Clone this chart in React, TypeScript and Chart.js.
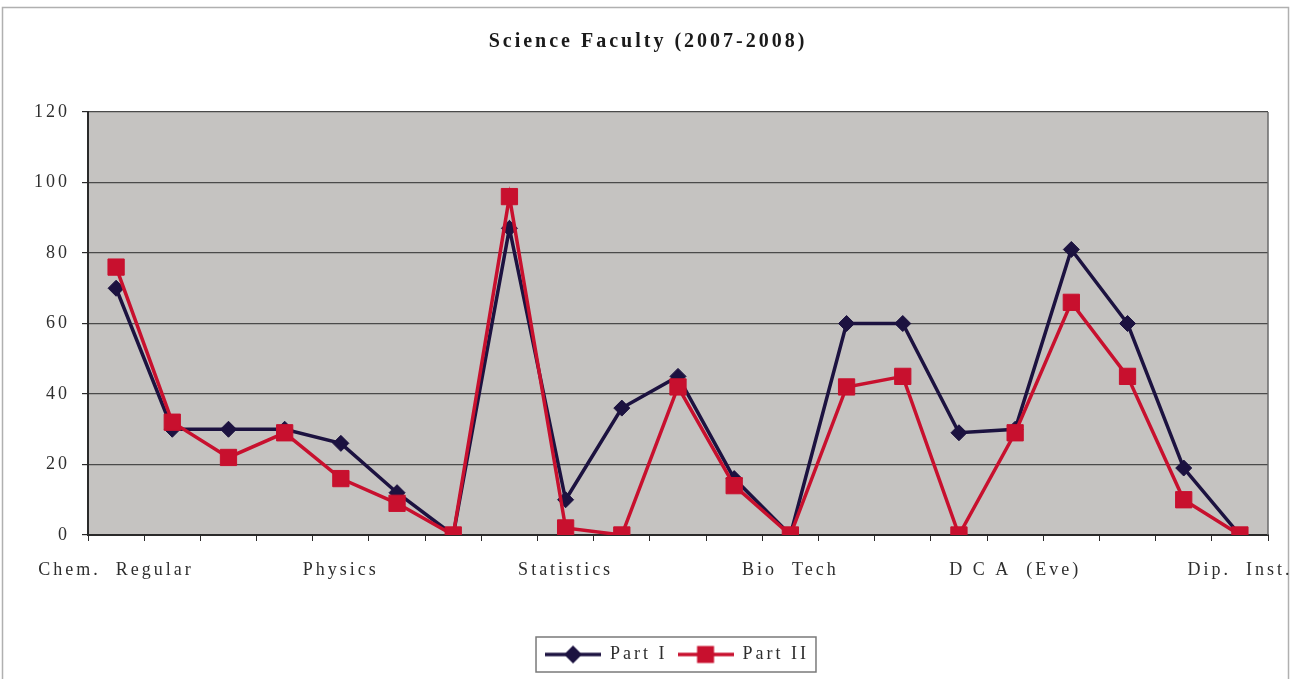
import React, { useEffect, useRef } from "react";
import { Chart, registerables } from "chart.js";

Chart.register(...registerables);

const categories = [
  "Chem.  Regular", "", "", "", "Physics", "", "", "", "Statistics", "", "", "",
  "Bio  Tech", "", "", "", "D C A  (Eve)", "", "", "", "Dip.  Inst.",
];
const partI = [70, 30, 30, 30, 26, 12, 0, 87, 10, 36, 45, 16, 0, 60, 60, 29, 30, 81, 60, 19, 0];
const partII = [76, 32, 22, 29, 16, 9, 0, 96, 2, 0, 42, 14, 0, 42, 45, 0, 29, 66, 45, 10, 0];
const yTicks = [0, 20, 40, 60, 80, 100, 120];
const seriesNames = ["Part I", "Part II"];
const chartTitle = "Science Faculty (2007-2008)";

const NAVY = "#1c1240";
const RED = "#c8102e";
const FONT = "'Liberation Serif', 'Times New Roman', serif";

function legendImage(color: string, shape: "diamond" | "square") {
  const c = document.createElement("canvas");
  c.width = 56;
  c.height = 20;
  const g = c.getContext("2d")!;
  g.strokeStyle = color;
  g.lineWidth = 3.5;
  g.beginPath();
  g.moveTo(0, 10);
  g.lineTo(56, 10);
  g.stroke();
  g.fillStyle = color;
  g.beginPath();
  if (shape === "diamond") {
    g.moveTo(28, 1);
    g.lineTo(37, 10);
    g.lineTo(28, 19);
    g.lineTo(19, 10);
    g.closePath();
  } else {
    g.rect(19.5, 1.5, 17, 17);
  }
  g.fill();
  return c;
}

const spacingPlugin = {
  id: "letterSpacing",
  beforeUpdate(chart: any) {
    (chart.ctx as any).letterSpacing = "3px";
  },
  afterLayout(chart: any) {
    const lg = chart.legend;
    if (lg) {
      lg.left += 43;
      lg.right += 43;
    }
    const tb = chart.titleBlock;
    if (tb) {
      tb.left += 14;
      tb.right += 14;
    }
  },
  beforeDraw(chart: any) {
    const ctx = chart.ctx;
    (ctx as any).letterSpacing = "3px";
    const { chartArea } = chart;
    ctx.save();
    ctx.fillStyle = "#ffffff";
    ctx.fillRect(0, 0, chart.width, chart.height);
    // outer frame
    ctx.strokeStyle = "#b0b0b0";
    ctx.lineWidth = 1.5;
    ctx.strokeRect(2.5, 7.5, 1286, 700);
    // plot area
    ctx.fillStyle = "#c5c3c1";
    ctx.fillRect(chartArea.left, chartArea.top, chartArea.right - chartArea.left, chartArea.bottom - chartArea.top);
    // legend box
    const lg = chart.legend;
    if (lg && lg.legendHitBoxes && lg.legendHitBoxes.length) {
      let l = Infinity, r = -Infinity;
      lg.legendHitBoxes.forEach((h: any) => {
        l = Math.min(l, h.left);
        r = Math.max(r, h.left + h.width);
      });
      ctx.fillStyle = "#ffffff";
      ctx.strokeStyle = "#7a7a7a";
      ctx.lineWidth = 1.5;
      ctx.fillRect(l - 9, 637, r - l + 16, 35);
      ctx.strokeRect(l - 9, 637, r - l + 16, 35);
    }
    ctx.restore();
  },
  beforeDatasetsDraw(chart: any) {
    const ctx = chart.ctx;
    const { chartArea } = chart;
    ctx.save();
    ctx.strokeStyle = "#6a6a6a";
    ctx.lineWidth = 1.5;
    ctx.beginPath();
    ctx.moveTo(chartArea.right, chartArea.top);
    ctx.lineTo(chartArea.right, chartArea.bottom);
    ctx.stroke();
    ctx.restore();
  },
};

export default function App() {
  const ref = useRef<HTMLCanvasElement>(null);

  useEffect(() => {
    if (!ref.current) return;
    const images = [legendImage(NAVY, "diamond"), legendImage(RED, "square")];
    const chart = new Chart(ref.current, {
      type: "line",
      data: {
        labels: categories,
        datasets: [
          {
            label: seriesNames[0],
            data: partI,
            borderColor: NAVY,
            backgroundColor: NAVY,
            pointBackgroundColor: NAVY,
            pointBorderColor: NAVY,
            pointStyle: "rectRot",
            pointRadius: 8,
            pointBorderWidth: 1,
            borderWidth: 3.5,
            tension: 0,
            order: 2,
          },
          {
            label: seriesNames[1],
            data: partII,
            borderColor: RED,
            backgroundColor: RED,
            pointBackgroundColor: RED,
            pointBorderColor: RED,
            pointStyle: "rect",
            pointRadius: 11.5,
            pointBorderWidth: 1,
            borderWidth: 3.5,
            tension: 0,
            order: 1,
          },
        ],
      },
      options: {
        animation: false,
        responsive: true,
        maintainAspectRatio: false,
        layout: { padding: { left: 0, right: 32, top: 0, bottom: 5.5 } },
        plugins: {
          title: {
            display: true,
            text: chartTitle,
            color: "#1a1a1a",
            font: { family: FONT, size: 20, weight: "bold" },
            padding: { top: 30, bottom: 58 },
          },
          legend: {
            display: true,
            position: "bottom",
            labels: {
              usePointStyle: true,
              pointStyleWidth: 56,
              color: "#2e2e2e",
              font: { family: FONT, size: 18 },
              padding: 10,
              sort: (a: any, b: any) => a.datasetIndex - b.datasetIndex,
              generateLabels: (c: any) => {
                const items = (Chart.defaults.plugins.legend.labels as any).generateLabels(c);
                items.forEach((it: any) => {
                  it.pointStyle = images[it.datasetIndex];
                });
                return items;
              },
            },
          },
          tooltip: { enabled: false },
        },
        scales: {
          x: {
            offset: true,
            border: { display: true, color: "#2a2a2a", width: 2 },
            grid: {
              display: true,
              offset: true,
              drawOnChartArea: false,
              drawTicks: true,
              tickLength: 6,
              color: "#2a2a2a",
            },
            ticks: {
              autoSkip: false,
              maxRotation: 0,
              minRotation: 0,
              padding: 18,
              color: "#2e2e2e",
              font: { family: FONT, size: 18 },
            },
            afterFit: (s: any) => {
              s.height = 100.5;
              s.paddingLeft = 0;
              s.paddingRight = 0;
            },
          },
          y: {
            min: 0,
            max: 120,
            border: { display: true, color: "#2a2a2a", width: 2 },
            grid: {
              color: "#4a4a4a",
              lineWidth: 1.2,
              drawTicks: true,
              tickLength: 6,
              tickColor: "#2a2a2a",
            },
            afterBuildTicks: (s: any) => {
              s.ticks = yTicks.map((v) => ({ value: v }));
            },
            ticks: {
              padding: 12,
              color: "#2e2e2e",
              font: { family: FONT, size: 18 },
            },
            afterFit: (s: any) => {
              s.width = 88;
            },
          },
        },
      },
      plugins: [spacingPlugin],
    });
    return () => chart.destroy();
  }, []);

  return (
    <div style={{ position: "fixed", left: 0, top: 0, width: 1300, height: 679, background: "#fff" }}>
      <canvas ref={ref} />
    </div>
  );
}
